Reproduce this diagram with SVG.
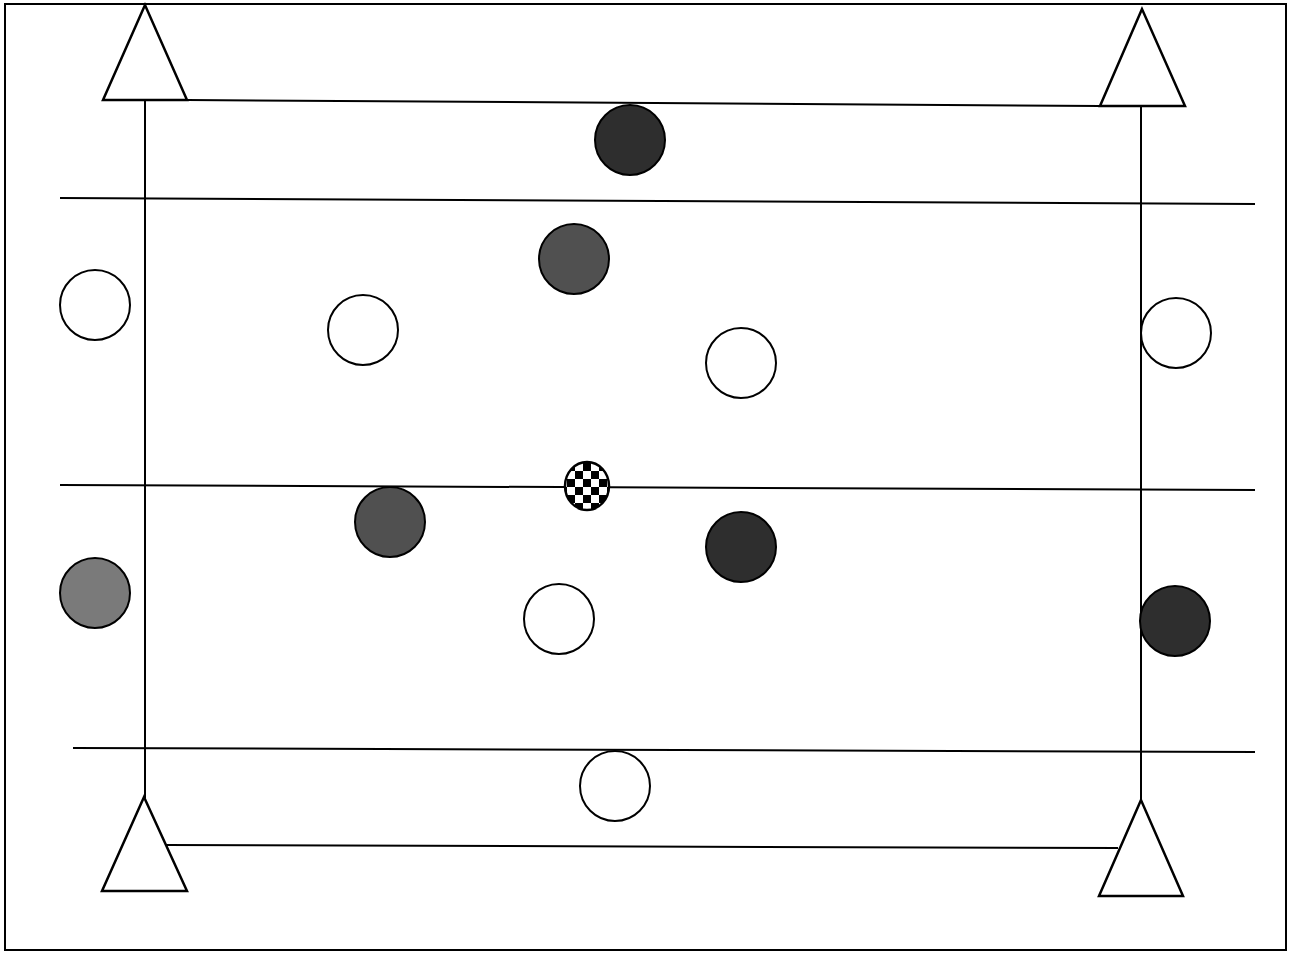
<svg xmlns="http://www.w3.org/2000/svg" width="1291" height="953" viewBox="0 0 1291 953">
<defs>
<style>
.ln{stroke:#000;stroke-width:2;fill:none}
.cone{fill:#fff;stroke:#000;stroke-width:2.5;stroke-linejoin:miter}
.w{fill:#fff;stroke:#000;stroke-width:2}
.d{fill:#2e2e2e;stroke:#000;stroke-width:2}
.m{fill:#505050;stroke:#000;stroke-width:2}
.l{fill:#7a7a7a;stroke:#000;stroke-width:2}
</style>
<pattern id="chk" x="567" y="463" width="16" height="16" patternUnits="userSpaceOnUse">
<rect width="16" height="16" fill="#fff"/>
<rect width="8" height="8" fill="#000"/>
<rect x="8" y="8" width="8" height="8" fill="#000"/>
</pattern>
</defs>
<rect x="0" y="0" width="1291" height="953" fill="#fff"/>
<rect x="5" y="4" width="1281" height="946" fill="none" stroke="#000" stroke-width="2"/>
<g id="connectors">
<line class="ln" x1="187" y1="100" x2="1100" y2="106"/>
<line class="ln" x1="145" y1="100" x2="145" y2="798"/>
<line class="ln" x1="1141" y1="106" x2="1141" y2="800"/>
<line class="ln" x1="60" y1="198" x2="1255" y2="204"/>
<line class="ln" x1="60" y1="485" x2="1255" y2="490"/>
<line class="ln" x1="73" y1="748" x2="1255" y2="752"/>
<line class="ln" x1="166" y1="845" x2="1118" y2="848"/>
</g>
<g id="cone-tl"><polygon class="cone" points="145,5 103,100 187,100"/></g>
<g id="cone-tr"><polygon class="cone" points="1142,9 1100,106 1185,106"/></g>
<g id="cone-bl"><polygon class="cone" points="144,797 102,891 187,891"/></g>
<g id="cone-br"><polygon class="cone" points="1141,800 1099,896 1183,896"/></g>
<g id="p1"><circle class="d" cx="630" cy="140" r="35"/></g>
<g id="p2"><circle class="m" cx="574" cy="259" r="35"/></g>
<g id="p3"><circle class="w" cx="95" cy="305" r="35"/></g>
<g id="p4"><circle class="w" cx="363" cy="330" r="35"/></g>
<g id="p5"><circle class="w" cx="741" cy="363" r="35"/></g>
<g id="p6"><circle class="w" cx="1176" cy="333" r="35"/></g>
<g id="ball"><ellipse cx="587" cy="486" rx="22" ry="24" fill="url(#chk)" stroke="#000" stroke-width="2.5"/></g>
<g id="p7"><circle class="m" cx="390" cy="522" r="35"/></g>
<g id="p8"><circle class="d" cx="741" cy="547" r="35"/></g>
<g id="p9"><circle class="l" cx="95" cy="593" r="35"/></g>
<g id="p10"><circle class="w" cx="559" cy="619" r="35"/></g>
<g id="p11"><circle class="d" cx="1175" cy="621" r="35"/></g>
<g id="p12"><circle class="w" cx="615" cy="786" r="35"/></g>
</svg>
